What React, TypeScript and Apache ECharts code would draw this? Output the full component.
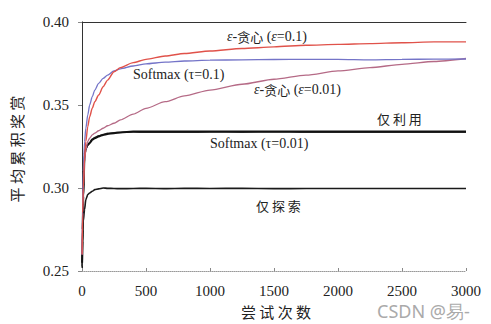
import React, { useEffect, useRef } from "react";
import * as echarts from "echarts";

const trials = [1, 5, 10, 20, 30, 45, 60, 80, 100, 130, 165, 200, 250, 300, 400, 500, 650, 800, 1000, 1250, 1500, 1750, 2000, 2250, 2500, 2750, 3000];

const greedy01 = [0.26, 0.285, 0.3, 0.318, 0.328, 0.337, 0.343, 0.348, 0.352, 0.356, 0.361, 0.365, 0.37, 0.3725, 0.3755, 0.3775, 0.3795, 0.381, 0.3825, 0.384, 0.385, 0.386, 0.3865, 0.387, 0.3875, 0.388, 0.388];
const softmax01 = [0.26, 0.29, 0.31, 0.328, 0.336, 0.344, 0.35, 0.355, 0.359, 0.363, 0.366, 0.368, 0.3705, 0.3718, 0.3735, 0.3748, 0.3758, 0.3765, 0.377, 0.3772, 0.3774, 0.3775, 0.3775, 0.3772, 0.3775, 0.3776, 0.3777];
const greedy001 = [0.26, 0.285, 0.3, 0.316, 0.323, 0.328, 0.33, 0.332, 0.333, 0.3345, 0.336, 0.3375, 0.339, 0.341, 0.3445, 0.348, 0.352, 0.3555, 0.359, 0.3625, 0.3655, 0.368, 0.3705, 0.3725, 0.3745, 0.3762, 0.378];
const softmax001 = [0.255, 0.275, 0.295, 0.32, 0.324, 0.326, 0.327, 0.329, 0.33, 0.331, 0.332, 0.3325, 0.333, 0.3335, 0.334, 0.334, 0.334, 0.334, 0.334, 0.334, 0.334, 0.334, 0.334, 0.334, 0.334, 0.334, 0.334];
const exploitOnly = [0.253, 0.272, 0.292, 0.318, 0.323, 0.326, 0.3275, 0.3295, 0.3305, 0.3315, 0.3322, 0.333, 0.3333, 0.3335, 0.3337, 0.3335, 0.3336, 0.3335, 0.3337, 0.3336, 0.3338, 0.3335, 0.3336, 0.3335, 0.3336, 0.3335, 0.3335];
const exploreOnly = [0.252, 0.268, 0.28, 0.287, 0.293, 0.296, 0.297, 0.298, 0.299, 0.2995, 0.3, 0.2998, 0.2997, 0.2996, 0.2997, 0.2998, 0.2996, 0.2998, 0.2997, 0.2998, 0.2996, 0.2997, 0.2997, 0.2997, 0.2997, 0.2997, 0.2997];

const yTicks = [0.25, 0.3, 0.35, 0.4];
const xTicks = [0, 500, 1000, 1500, 2000, 2500, 3000];

const SERIF = "'Times New Roman', 'Liberation Serif', serif";
const CJK = "'Noto Sans CJK SC', sans-serif";

const pairs = (vals: number[]) => trials.map((t, i) => [t, vals[i]]);

export default function App() {
  const ref = useRef<HTMLDivElement>(null);
  useEffect(() => {
    if (!ref.current) return;
    const chart = echarts.init(ref.current, null, { renderer: "svg" });
    const line = (name: string, vals: number[], color: string, width: number) => ({
      name,
      type: "line",
      data: pairs(vals),
      showSymbol: false,
      symbol: "none",
      smooth: 0.25,
      smoothMonotone: "x",
      lineStyle: { color, width },
      z: 3,
    });
    const rich = {
      i: { fontFamily: SERIF, fontStyle: "italic", fontSize: 14, fill: "#222" },
      c: { fontFamily: CJK, fontSize: 13, fill: "#222" },
      t: { fontFamily: SERIF, fontSize: 14, fill: "#222" },
    };
    const label = (text: string, x: number, y: number) => ({
      type: "text",
      x,
      y,
      style: {
        text,
        fontFamily: SERIF,
        fontSize: 14,
        fill: "#222",
        verticalAlign: "middle",
        rich,
      },
      z: 10,
    });
    chart.setOption({
      animation: false,
      backgroundColor: "#ffffff",
      grid: { left: 82, right: 25, top: 22, bottom: 53 },
      xAxis: [
        {
          type: "value",
          min: xTicks[0],
          max: xTicks[xTicks.length - 1],
          interval: 500,
          axisLine: { show: true, lineStyle: { color: "#999", type: "dotted", width: 1 } },
          axisTick: { show: true, inside: true, length: 3, lineStyle: { color: "#888" } },
          axisLabel: {
            margin: 12,
            fontFamily: SERIF,
            fontSize: 15,
            color: "#222",
            formatter: (v: number) => String(v),
          },
          splitLine: { show: false },
        },
        {
          type: "value",
          position: "top",
          min: 0,
          max: 3000,
          axisLine: { show: true, lineStyle: { color: "#333", width: 1 } },
          axisTick: { show: false },
          axisLabel: { show: false },
          splitLine: { show: false },
        },
      ],
      yAxis: [
        {
          type: "value",
          min: yTicks[0],
          max: yTicks[yTicks.length - 1],
          interval: 0.05,
          axisLine: { show: true, lineStyle: { color: "#999", type: "dotted", width: 1 } },
          axisTick: { show: true, length: 4, lineStyle: { color: "#888" } },
          axisLabel: {
            margin: 13,
            fontFamily: SERIF,
            fontSize: 15,
            color: "#222",
            formatter: (v: number) => v.toFixed(2),
          },
          splitLine: { show: false },
        },
        {
          type: "value",
          position: "right",
          min: 0.25,
          max: 0.4,
          axisLine: { show: true, lineStyle: { color: "#333", width: 1 } },
          axisTick: { show: false },
          axisLabel: { show: false },
          splitLine: { show: false },
        },
      ],
      series: [
        line("仅探索", exploreOnly, "#1a1a1a", 1.6),
        line("仅利用", exploitOnly, "#333333", 1.4),
        line("Softmax (τ=0.01)", softmax001, "#111111", 2),
        line("ε-贪心 (ε=0.01)", greedy001, "#b56a86", 1.3),
        line("Softmax (τ=0.1)", softmax01, "#7474c8", 1.3),
        line("ε-贪心 (ε=0.1)", greedy01, "#e0524a", 1.4),
      ],
      graphic: [
        label("{i|ε}{t|-}{c|贪心}{t| (}{i|ε}{t|=0.1)}", 227, 36),
        label("{t|Softmax (τ=0.1)}", 133, 74),
        label("{i|ε}{t|-}{c|贪心}{t| (}{i|ε}{t|=0.01)}", 254, 89),
        {
          type: "text",
          x: 377,
          y: 118,
          style: { text: "仅 利 用", fontFamily: CJK, fontSize: 13, fill: "#222", verticalAlign: "middle" },
        },
        label("{t|Softmax (τ=0.01)}", 210, 143),
        {
          type: "text",
          x: 256,
          y: 205,
          style: { text: "仅 探 索", fontFamily: CJK, fontSize: 13, fill: "#222", verticalAlign: "middle" },
        },
        {
          type: "text",
          x: 16,
          y: 149,
          rotation: Math.PI / 2,
          style: {
            text: "平 均 累 积 奖 赏",
            fontFamily: CJK,
            fontSize: 15,
            fill: "#222",
            align: "center",
            verticalAlign: "middle",
          },
        },
        {
          type: "text",
          x: 276,
          y: 311,
          style: {
            text: "尝 试 次 数",
            fontFamily: CJK,
            fontSize: 15,
            fill: "#222",
            align: "center",
            verticalAlign: "middle",
          },
        },
        {
          type: "text",
          x: 377,
          y: 311,
          style: {
            text: "CSDN @易-",
            fontFamily: "'Noto Sans', sans-serif",
            fontSize: 18,
            fill: "#aaaaaa",
            align: "left",
            verticalAlign: "middle",
          },
        },
      ],
    });
    return () => chart.dispose();
  }, []);
  return (
    <div
      ref={ref}
      style={{ position: "fixed", left: 0, top: 0, width: 491, height: 324, background: "#fff" }}
    />
  );
}
